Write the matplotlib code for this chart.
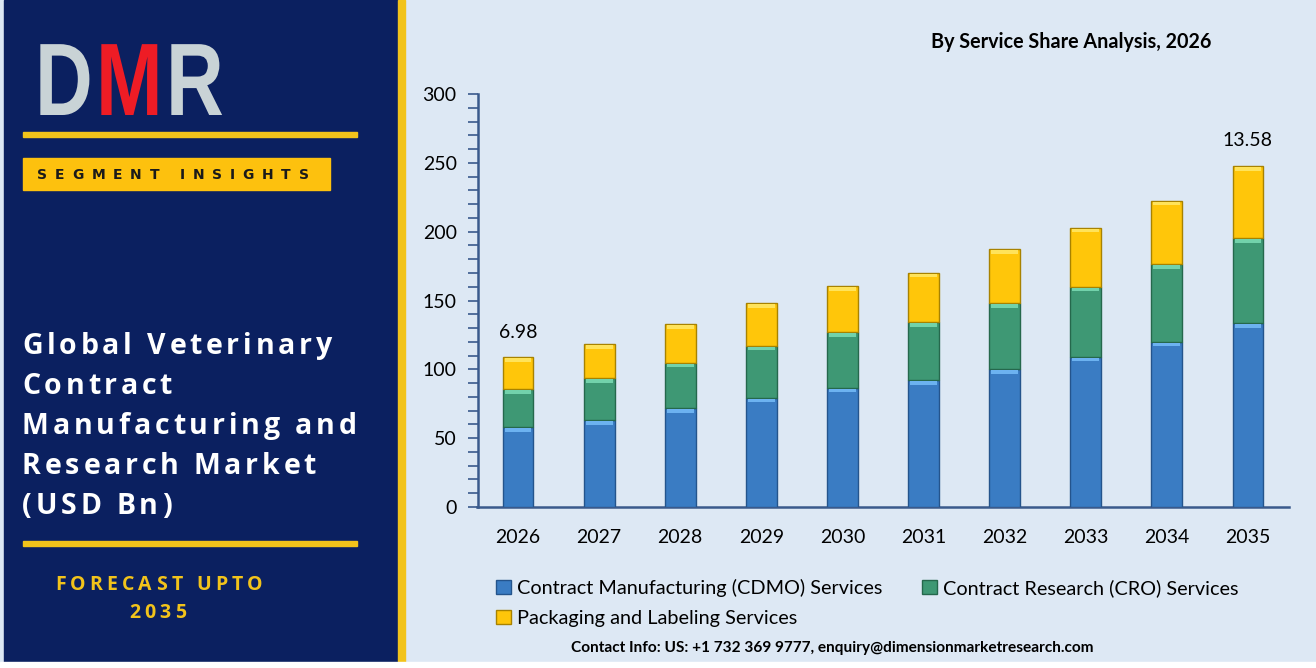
import numpy as np
import matplotlib
matplotlib.use("Agg")
import matplotlib.pyplot as plt
from matplotlib.patches import Rectangle, PathPatch
from matplotlib.textpath import TextPath
from matplotlib.font_manager import FontProperties
from matplotlib.transforms import Affine2D
from matplotlib.ticker import MultipleLocator

years = ["2026", "2027", "2028", "2029", "2030", "2031", "2032", "2033", "2034", "2035"]
cdmo = [58.0, 63.2, 71.7, 79.4, 86.7, 92.2, 100.2, 109.2, 120.1, 133.4]
cro = [27.7, 30.3, 33.1, 37.8, 40.2, 42.0, 47.8, 50.8, 56.2, 61.8]
packaging = [23.0, 24.7, 27.9, 31.0, 33.6, 36.0, 39.2, 42.9, 46.2, 52.5]
series_names = ["Contract Manufacturing (CDMO) Services",
                "Contract Research (CRO) Services",
                "Packaging and Labeling Services"]
end_labels = {0: "6.98", 9: "13.58"}

title = "By Service Share Analysis, 2026"
panel_title = ["Global Veterinary", "Contract", "Manufacturing and",
               "Research Market", "(USD Bn)"]
contact = "Contact Info: US: +1 732 369 9777, enquiry@dimensionmarketresearch.com"

NAVY = "#0b2060"
GOLD = "#f2c31b"
BG = "#dde8f4"
face = ["#3a7cc3", "#3e9874", "#ffc60a"]
edge = ["#24548c", "#25684c", "#a88200"]
shine = ["#6cb2f0", "#72d2ab", "#ffe35a"]

W, H = 1316, 668
fig = plt.figure(figsize=(W / 100, H / 100), dpi=100, facecolor=BG)

# background axes in pixel coordinates (y down)
bg = fig.add_axes([0, 0, 1, 1], zorder=0)
bg.set_xlim(0, W)
bg.set_ylim(H, 0)
bg.axis("off")
bg.add_patch(Rectangle((0, 0), W, H, color=BG))
bg.add_patch(Rectangle((4, 0), 394, 662, color=NAVY))
bg.add_patch(Rectangle((398, 0), 7, 662, color=GOLD))
bg.add_patch(Rectangle((0, 662), W, 6, color="white"))
bg.add_patch(Rectangle((23, 132), 334, 5, color=GOLD))
bg.add_patch(Rectangle((23, 541), 334, 5, color=GOLD))
bg.add_patch(Rectangle((23, 158), 307, 32, color="#fdc10e"))

renderer = fig.canvas.get_renderer()


def spaced_text(x, y, s, spacing, **kw):
    # draw text one character at a time with extra tracking
    t = bg.text(0, 0, s, **kw)
    pos = x
    for i, ch in enumerate(s):
        if ch != " ":
            bg.text(pos, y, ch, ha="left", va="center", **kw)
        t.set_text(s[:i + 1] + "|")
        w1 = t.get_window_extent(renderer).width
        t.set_text(s[:i] + "|")
        wp = t.get_window_extent(renderer).width
        pos += (w1 - wp) + spacing
    t.remove()
    return pos


# DMR logo
logo_font = FontProperties(family="Liberation Sans", weight="bold")
for ch, x0, col in [("D", 35, "#c9d3d6"), ("M", 96, "#ee1c25"), ("R", 166, "#c9d3d6")]:
    tp = TextPath((0, 0), ch, size=100, prop=logo_font)
    tr = Affine2D().scale(0.8, -1.03).translate(x0, 115) + bg.transData
    bg.add_patch(PathPatch(tp, transform=tr, color=col, lw=0))

spaced_text(37, 175, "SEGMENT INSIGHTS", 7.8, fontsize=10, fontweight="bold",
            color="#1a1a1a", family="DejaVu Sans")

for i, line in enumerate(panel_title):
    spaced_text(22, 346 + 40 * i, line, 3.8, fontsize=20.5, fontweight="bold",
                color="white", family="Open Sans")

spaced_text(55, 585, "FORECAST UPTO", 4.2, fontsize=14, fontweight="bold",
            color=GOLD, family="Open Sans")
spaced_text(129, 613, "2035", 4.2, fontsize=14, fontweight="bold",
            color=GOLD, family="Open Sans")

bg.text(1071, 42, title, ha="center", va="center", fontsize=14.2,
        fontweight="bold", family="Lato", color="black")
bg.text(832, 648, contact, ha="center", va="center", fontsize=11.1,
        fontweight="bold", family="Lato", color="black")

# chart
ax = fig.add_axes([477.5 / W, (H - 507) / H, 811 / W, 413 / H], zorder=2)
ax.patch.set_alpha(0)
x = np.arange(len(years))
bw = 0.38
bottom = np.zeros(len(years))
handles = []
for vals, fc, ec, sc, name in zip([cdmo, cro, packaging], face, edge, shine, series_names):
    vals = np.array(vals)
    b = ax.bar(x, vals, bw, bottom=bottom, color=fc, edgecolor=ec, linewidth=1.0,
               label=name, zorder=3)
    ax.bar(x, np.full(len(x), 2.6), bw - 0.05, bottom=bottom + vals - 3.4, color=sc,
           linewidth=0, zorder=4)
    handles.append(b)
    bottom = bottom + vals

for i, lab in end_labels.items():
    ax.annotate(lab, (x[i], bottom[i]), xytext=(0, 18), textcoords="offset points",
                ha="center", va="center", fontsize=14, family="Lato")

ax.set_ylim(0, 300)
ax.set_xlim(-0.5, len(years) - 0.5)
ax.set_xticks(x)
ax.set_xticklabels(years)
ax.yaxis.set_major_locator(MultipleLocator(50))
ax.yaxis.set_minor_locator(MultipleLocator(10))
ax.tick_params(axis="y", which="both", direction="out", length=7, width=1.2,
               color="#3a5a8c", labelsize=14, pad=8)
ax.tick_params(axis="x", length=0, labelsize=14, pad=16)
for lab in ax.get_xticklabels() + ax.get_yticklabels():
    lab.set_family("Lato")
for s in ["top", "right"]:
    ax.spines[s].set_visible(False)
for s in ["left", "bottom"]:
    ax.spines[s].set_color("#3a5a8c")
    ax.spines[s].set_linewidth(1.8)

leg = fig.legend([handles[0], handles[2], handles[1]],
                 [series_names[0], series_names[2], series_names[1]],
                 ncol=2, loc="upper left", bbox_to_anchor=(478 / W, 1 - 561 / H),
                 frameon=False, handlelength=0.75, handleheight=0.75,
                 handletextpad=0.3, columnspacing=2.0, labelspacing=0.65,
                 prop=FontProperties(family="Lato", size=14.3))

fig.savefig("out.png", dpi=100, facecolor=BG)
